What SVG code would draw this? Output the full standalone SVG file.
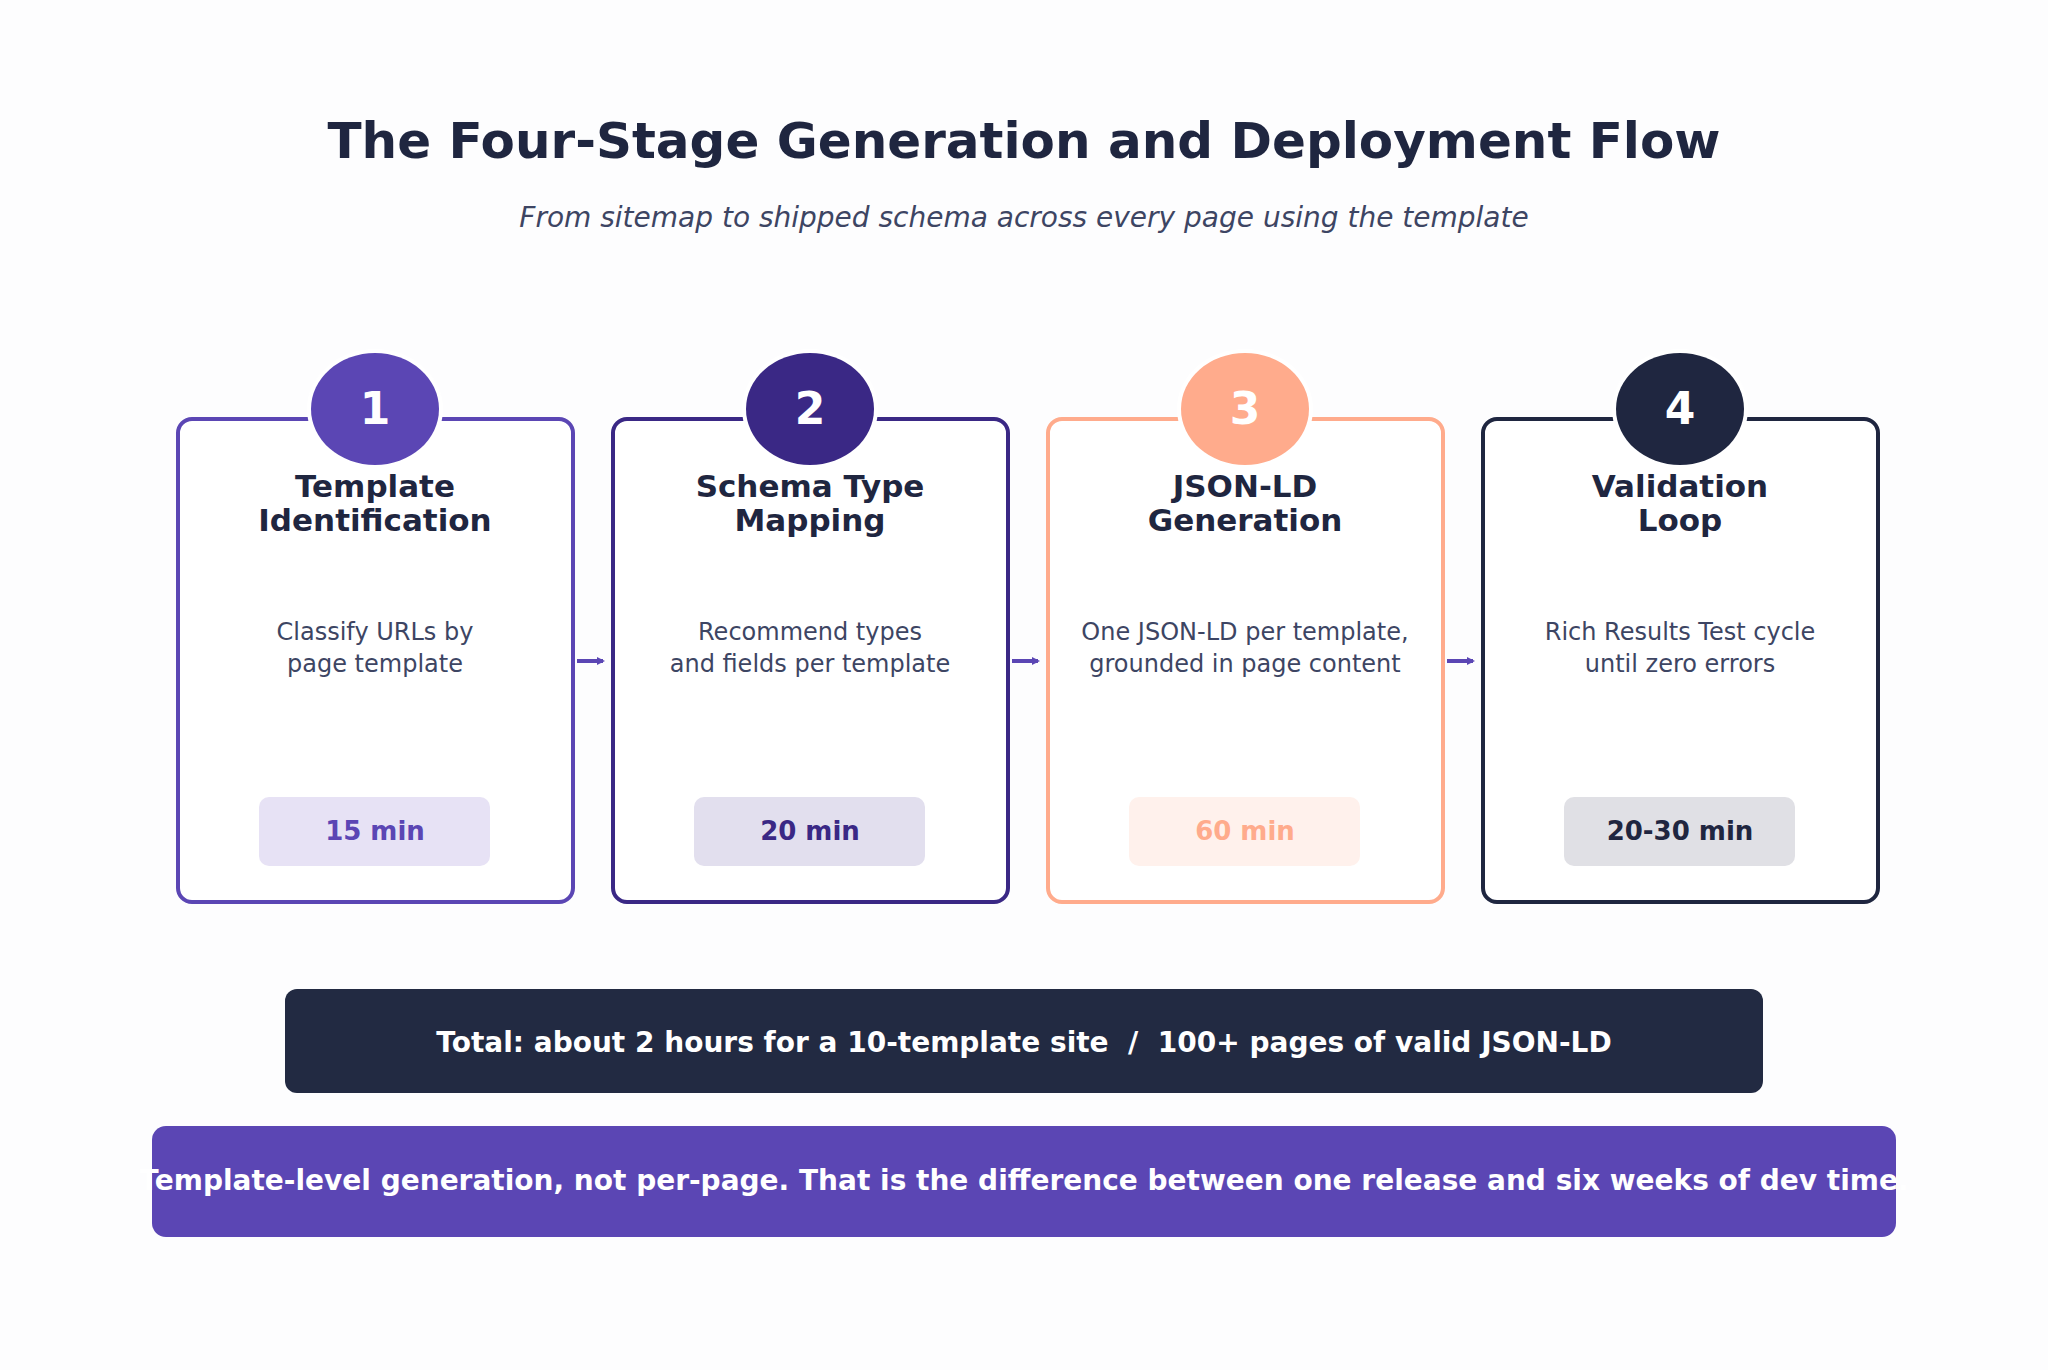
<svg xmlns="http://www.w3.org/2000/svg" width="2048" height="1370" viewBox="0 0 2048 1370">
<style>
text{font-family:"DejaVu Sans",sans-serif;text-anchor:middle}
.t{font-size:31px;font-weight:bold;fill:#1f2640}
.d{font-size:24px;fill:#3d4563}
.p{font-size:26px;font-weight:bold}
.n{font-size:44px;font-weight:bold;fill:#fff}
.card{fill:#fff;stroke-width:4}
</style>
<defs><marker id="ah" markerWidth="8" markerHeight="8" refX="6" refY="4" orient="auto" markerUnits="userSpaceOnUse" viewBox="0 0 8 8"><path d="M0,0 L8,4 L0,8 z" fill="#5b46b4"/></marker></defs>
<rect width="2048" height="1370" fill="#fdfdfe"/>
<text x="1024" y="158" style="font-size:50px;font-weight:bold;fill:#1f2640">The Four-Stage Generation and Deployment Flow</text>
<text x="1024" y="227" style="font-size:28px;font-style:italic;fill:#3d4563">From sitemap to shipped schema across every page using the template</text>
<g id="stage1"><rect class="card" x="178" y="419" width="395" height="483" rx="14" stroke="#5b46b4"/><ellipse cx="375" cy="409" rx="68" ry="60" fill="#fff"/><ellipse cx="375" cy="409" rx="64" ry="56" fill="#5b46b4"/><text class="n" x="375" y="424">1</text><text class="t" x="375" y="497">Template</text><text class="t" x="375" y="531">Identification</text><text class="d" x="375" y="640">Classify URLs by</text><text class="d" x="375" y="672">page template</text><rect x="259" y="797" width="231" height="69" rx="10" fill="#e7e2f5"/><text class="p" x="375" y="840" fill="#5b46b4">15 min</text></g>
<g id="stage2"><rect class="card" x="613" y="419" width="395" height="483" rx="14" stroke="#3a2885"/><ellipse cx="810" cy="409" rx="68" ry="60" fill="#fff"/><ellipse cx="810" cy="409" rx="64" ry="56" fill="#3a2885"/><text class="n" x="810" y="424">2</text><text class="t" x="810" y="497">Schema Type</text><text class="t" x="810" y="531">Mapping</text><text class="d" x="810" y="640">Recommend types</text><text class="d" x="810" y="672">and fields per template</text><rect x="694" y="797" width="231" height="69" rx="10" fill="#e2dfee"/><text class="p" x="810" y="840" fill="#3a2885">20 min</text></g>
<g id="stage3"><rect class="card" x="1048" y="419" width="395" height="483" rx="14" stroke="#ffab8c"/><ellipse cx="1245" cy="409" rx="68" ry="60" fill="#fff"/><ellipse cx="1245" cy="409" rx="64" ry="56" fill="#ffab8c"/><text class="n" x="1245" y="424">3</text><text class="t" x="1245" y="497">JSON-LD</text><text class="t" x="1245" y="531">Generation</text><text class="d" x="1245" y="640">One JSON-LD per template,</text><text class="d" x="1245" y="672">grounded in page content</text><rect x="1129" y="797" width="231" height="69" rx="10" fill="#fff1ec"/><text class="p" x="1245" y="840" fill="#ffab8c">60 min</text></g>
<g id="stage4"><rect class="card" x="1483" y="419" width="395" height="483" rx="14" stroke="#1f2640"/><ellipse cx="1680" cy="409" rx="68" ry="60" fill="#fff"/><ellipse cx="1680" cy="409" rx="64" ry="56" fill="#1f2640"/><text class="n" x="1680" y="424">4</text><text class="t" x="1680" y="497">Validation</text><text class="t" x="1680" y="531">Loop</text><text class="d" x="1680" y="640">Rich Results Test cycle</text><text class="d" x="1680" y="672">until zero errors</text><rect x="1564" y="797" width="231" height="69" rx="10" fill="#e0e0e5"/><text class="p" x="1680" y="840" fill="#1f2640">20-30 min</text></g>
<g id="connectors" stroke="#5b46b4" stroke-width="4" marker-end="url(#ah)"><line x1="577" y1="661" x2="603" y2="661"/><line x1="1012" y1="661" x2="1038" y2="661"/><line x1="1447" y1="661" x2="1473" y2="661"/></g>
<g id="total"><rect x="285" y="989" width="1478" height="104" rx="12" fill="#222a42"/><text x="1024" y="1052" style="font-size:28px;font-weight:bold;fill:#fff" xml:space="preserve">Total: about 2 hours for a 10-template site  /  100+ pages of valid JSON-LD</text></g>
<g id="note"><rect x="152" y="1126" width="1744" height="111" rx="14" fill="#5b46b4"/><text x="1024" y="1190" style="font-size:28px;font-weight:bold;fill:#fff">Template-level generation, not per-page. That is the difference between one release and six weeks of dev time.</text></g>
</svg>
